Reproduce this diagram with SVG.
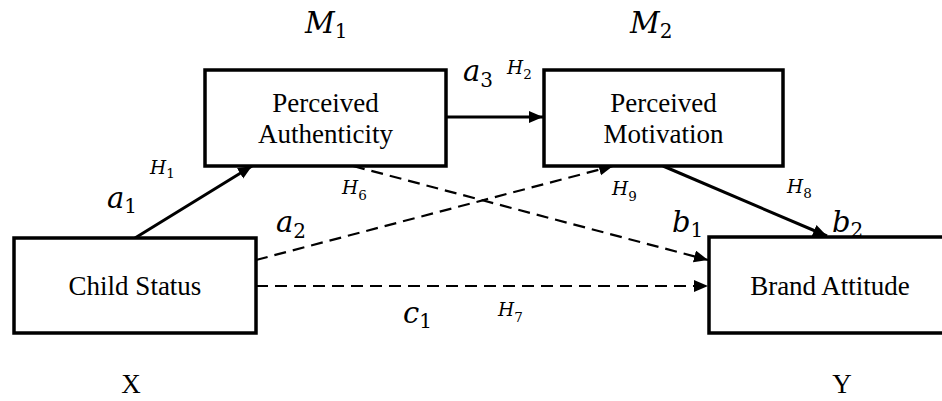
<svg xmlns="http://www.w3.org/2000/svg" width="942" height="401" viewBox="0 0 942 401">
<style>
.box{fill:#fff;stroke:#000;stroke-width:3.5}
.lbl{font-family:'Liberation Serif','Times New Roman',serif;font-size:27px;fill:#000;text-anchor:middle}
.math{font-family:'DejaVu Serif',serif;font-style:italic;font-size:29px;fill:#000}
.h{font-family:'DejaVu Serif',serif;font-style:italic;font-size:18.5px;fill:#000}
.sub{font-style:normal;font-size:20px}
.hsub{font-style:normal;font-size:13.5px}
.solid{stroke:#000;stroke-width:3;fill:none}
.dash{stroke:#000;stroke-width:2.2;fill:none;stroke-dasharray:12 7}
</style>
<defs>
<marker id="ah" markerUnits="userSpaceOnUse" markerWidth="15" markerHeight="13" refX="14" refY="6" orient="auto">
<path d="M0,0 L14,6 L0,12 z" fill="#000"/>
</marker>
</defs>
<rect width="942" height="401" fill="#fff"/>
<g id="connectors">
<line class="solid" x1="135" y1="238" x2="252" y2="166" marker-end="url(#ah)"/>
<line class="solid" x1="446" y1="117" x2="543" y2="117" marker-end="url(#ah)"/>
<line class="solid" x1="663" y1="166" x2="827" y2="236" marker-end="url(#ah)"/>
<line class="dash" x1="256" y1="260" x2="613" y2="166" marker-end="url(#ah)"/>
<line class="dash" x1="353" y1="166" x2="708" y2="260" marker-end="url(#ah)"/>
<line class="dash" x1="256" y1="286" x2="708" y2="286" marker-end="url(#ah)"/>
</g>
<g id="node-authenticity">
<rect class="box" x="205" y="70" width="241" height="96"/>
<text class="lbl" x="325.5" y="112">Perceived</text>
<text class="lbl" x="325.5" y="143">Authenticity</text>
</g>
<g id="node-motivation">
<rect class="box" x="544" y="70" width="239" height="96"/>
<text class="lbl" x="663.5" y="112">Perceived</text>
<text class="lbl" x="663.5" y="143">Motivation</text>
</g>
<g id="node-child">
<rect class="box" x="14" y="238" width="242" height="95"/>
<text class="lbl" x="135" y="295">Child Status</text>
</g>
<g id="node-brand">
<rect class="box" x="709" y="237" width="245" height="96"/>
<text class="lbl" x="830" y="295">Brand Attitude</text>
</g>
<g id="labels">
<text class="math" x="305" y="33">M<tspan class="sub" dy="5">1</tspan></text>
<text class="math" x="630" y="33">M<tspan class="sub" dy="5">2</tspan></text>
<text class="lbl" x="131" y="393">X</text>
<text class="lbl" x="842" y="393">Y</text>
<text class="math" x="463" y="81">a<tspan class="sub" dy="6">3</tspan></text>
<text class="math" x="107" y="208">a<tspan class="sub" dy="5">1</tspan></text>
<text class="math" x="276" y="232">a<tspan class="sub" dy="6">2</tspan></text>
<text class="math" x="403" y="323">c<tspan class="sub" dy="5">1</tspan></text>
<text class="math" x="672" y="232">b<tspan class="sub" dy="5">1</tspan></text>
<text class="math" x="832" y="232">b<tspan class="sub" dy="5">2</tspan></text>
<text class="h" x="507" y="74">H<tspan class="hsub" dy="5">2</tspan></text>
<text class="h" x="150" y="174">H<tspan class="hsub" dy="4">1</tspan></text>
<text class="h" x="342" y="194">H<tspan class="hsub" dy="6">6</tspan></text>
<text class="h" x="498" y="316">H<tspan class="hsub" dy="6">7</tspan></text>
<text class="h" x="612" y="195">H<tspan class="hsub" dy="6">9</tspan></text>
<text class="h" x="787" y="193">H<tspan class="hsub" dy="5">8</tspan></text>
</g>
</svg>
